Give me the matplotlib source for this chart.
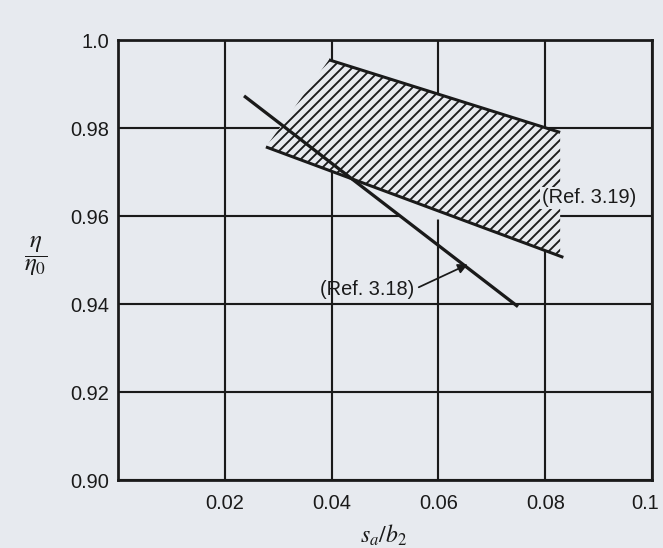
import numpy as np
import matplotlib
matplotlib.use("Agg")
import matplotlib.pyplot as plt
from matplotlib.transforms import ScaledTranslation

# values (x = s_a/b_2, y = eta/eta_0)
ref318_x = [0.0236, 0.0749]
ref318_y = [0.9873, 0.9394]

band_upper_x = [0.0395, 0.0828]
band_upper_y = [0.9955, 0.9790]
band_lower_x = [0.0277, 0.0834]
band_lower_y = [0.9757, 0.9506]
hatch_right_x = 0.0828

# area where the grid was blanked out on the original drawing
mask_x = [0.0395, 0.0828, 0.0828, 0.0637, 0.0537, 0.0438, 0.0277]
mask_y = [0.9955, 0.9790, 0.9509, 0.9592, 0.9592, 0.9684, 0.9757]

x_ticks = [0.02, 0.04, 0.06, 0.08, 0.1]
x_tick_labels = ["0.02", "0.04", "0.06", "0.08", "0.1"]
y_ticks = [0.90, 0.92, 0.94, 0.96, 0.98, 1.0]
y_tick_labels = ["0.90", "0.92", "0.94", "0.96", "0.98", "1.0"]

label_318 = "(Ref. 3.18)"
label_319 = "(Ref. 3.19)"

paper = "#e7eaef"
ink = "#1a1a1a"

plt.rcParams["font.family"] = ["Liberation Sans", "DejaVu Sans"]
plt.rcParams["mathtext.fontset"] = "stix"
plt.rcParams["hatch.linewidth"] = 1.5
plt.rcParams["hatch.color"] = ink

dpi = 90
fig = plt.figure(figsize=(663 / dpi, 548 / dpi), dpi=dpi, facecolor=paper)
ax = fig.add_axes([118 / 663, (548 - 480) / 548, 534 / 663, 440 / 548])
ax.set_facecolor(paper)

ax.set_xlim(0, 0.1)
ax.set_ylim(0.90, 1.0)
ax.set_xticks(x_ticks)
ax.set_xticklabels(x_tick_labels)
ax.set_yticks(y_ticks)
ax.set_yticklabels(y_tick_labels)
ax.tick_params(length=0, labelsize=16, colors=ink)
ax.tick_params(axis="x", pad=11)
ax.tick_params(axis="y", pad=7)
# the last x label sits a little inside the frame on the original
last = ax.get_xticklabels()[-1]
last.set_transform(last.get_transform() + ScaledTranslation(-7 / dpi, 0, fig.dpi_scale_trans))

ax.set_axisbelow(True)
ax.grid(True, color=ink, linewidth=1.7)
for s in ax.spines.values():
    s.set_linewidth(2.2)
    s.set_color(ink)

# blank out the grid under the band
ax.fill(mask_x, mask_y, facecolor=paper, edgecolor="none", zorder=1.5)

# hatched band (Ref. 3.19)
low_right_y = np.interp(hatch_right_x, band_lower_x, band_lower_y)
poly_x = band_upper_x + [hatch_right_x, band_lower_x[0]]
poly_y = band_upper_y + [low_right_y, band_lower_y[0]]
ax.fill(poly_x, poly_y, facecolor="none", edgecolor=ink, linewidth=0,
        hatch="///", zorder=2)
ax.plot(band_upper_x, band_upper_y, color=ink, lw=2.4, zorder=3,
        solid_capstyle="butt")
ax.plot(band_lower_x, band_lower_y, color=ink, lw=2.4, zorder=3,
        solid_capstyle="butt")

# Ref. 3.18 line
ax.plot(ref318_x, ref318_y, color=ink, lw=2.6, zorder=3,
        solid_capstyle="butt")

ax.text(0.0794, 0.9641, label_319, fontsize=16, color=ink, ha="left",
        va="center", zorder=4,
        bbox=dict(facecolor=paper, edgecolor="none", pad=1.5))
ax.annotate(label_318, xy=(0.0655, 0.9490), xytext=(0.0466, 0.9433),
            fontsize=16, color=ink, ha="center", va="center", zorder=4,
            arrowprops=dict(arrowstyle="-|>", color=ink, lw=1.4,
                            mutation_scale=16, relpos=(1.0, 0.5),
                            shrinkA=2, shrinkB=0))

ax.set_xlabel(r"$s_a/b_2$", fontsize=19, color=ink, va="center")
ax.xaxis.set_label_coords(0.497, -0.125)
ax.set_ylabel(r"$\dfrac{\eta}{\eta_0}$", fontsize=20, color=ink,
              rotation=0, va="center", ha="center")
ax.yaxis.set_label_coords(-0.154, 0.508)

fig.savefig("out.png", dpi=dpi, facecolor=paper)
